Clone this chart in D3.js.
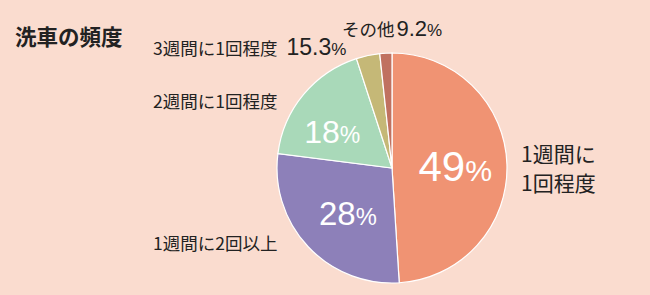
<!DOCTYPE html>
<html>
<head>
<meta charset="utf-8">
<script src="https://cdn.jsdelivr.net/npm/d3@7"></script>
<style>
  html, body { margin: 0; padding: 0; background: #fadccf; }
  svg { display: block; }
  text { font-family: "Noto Sans CJK JP", "Noto Sans", sans-serif; }
</style>
</head>
<body>
<svg id="chart" width="650" height="295"></svg>
<script>
// 洗車の頻度 — share of respondents by washing frequency
const categories = ["1週間に1回程度", "1週間に2回以上", "2週間に1回程度", "3週間に1回程度", "その他"];
const shares = [49, 28, 18, 3.3, 1.7];
const insideLabels = ["49", "28", "18", null, null];
const colors = ["#f09373", "#8d80b9", "#a9d9b9", "#c5b877", "#c07160"];

const svg = d3.select("#chart");
const cx = 392, cy = 168, radius = 115;

const pie = d3.pie().sort(null).value(d => d.value);
const slices = pie(categories.map((c, i) => ({ name: c, value: shares[i], label: insideLabels[i] })));

const arc = d3.arc().innerRadius(0).outerRadius(radius);
const labelArc = d3.arc().innerRadius(0).outerRadius(radius * 1.1);

const g = svg.append("g").attr("transform", `translate(${cx},${cy})`);

g.selectAll("path")
  .data(slices)
  .join("path")
  .attr("d", arc)
  .attr("fill", (d, i) => colors[i])
  .attr("stroke", "#ffffff")
  .attr("stroke-width", 1.2);

// percentage labels inside the large slices
const numFont = "'Liberation Sans', Arial, sans-serif";
const pctSize = [42, 33, 32];
const pctNudge = [[0, 0], [2, 2], [-11, 4]];
g.selectAll("text.pct")
  .data(slices.filter(d => d.data.label))
  .join("text")
  .attr("class", "pct")
  .attr("transform", (d, i) => {
    const [x, y] = labelArc.centroid(d);
    return `translate(${x + pctNudge[i][0]},${y + pctNudge[i][1]})`;
  })
  .attr("text-anchor", "middle")
  .attr("dy", "0.36em")
  .attr("fill", "#ffffff")
  .style("font-family", numFont)
  .style("font-size", (d, i) => pctSize[i] + "px")
  .each(function (d, i) {
    const t = d3.select(this);
    t.append("tspan").text(d.data.label);
    t.append("tspan").style("font-size", (pctSize[i] * 0.72) + "px").text("%");
  });

// title
svg.append("text")
  .attr("x", 15).attr("y", 45)
  .style("font-size", "21.5px").style("font-weight", "bold")
  .attr("fill", "#222")
  .text("洗車の頻度");

// category labels around the pie
const dark = "#222";
function label(x, y, size, parts) {
  const t = svg.append("text").attr("x", x).attr("y", y).attr("fill", dark)
    .style("font-size", size + "px");
  parts.forEach(p => {
    const s = t.append("tspan").text(p.text);
    if (p.size) s.style("font-size", p.size + "px");
    if (p.font) s.style("font-family", p.font);
    if (p.dx) s.attr("dx", p.dx);
  });
  return t;
}

label(153, 55, 17.5, [
  { text: categories[3] },
  { text: "15.3", size: 23, font: numFont, dx: 9 },
  { text: "%", size: 17, font: numFont }
]);
label(342, 36, 17.5, [
  { text: categories[4] },
  { text: "9.2", size: 22, font: numFont, dx: 2 },
  { text: "%", size: 17, font: numFont }
]);
label(153, 108, 17.5, [{ text: categories[2] }]);
label(153, 250, 17.5, [{ text: categories[1] }]);
label(521, 162, 21, [{ text: "1週間に" }]);
label(521, 191, 21, [{ text: "1回程度" }]);
</script>
</body>
</html>
